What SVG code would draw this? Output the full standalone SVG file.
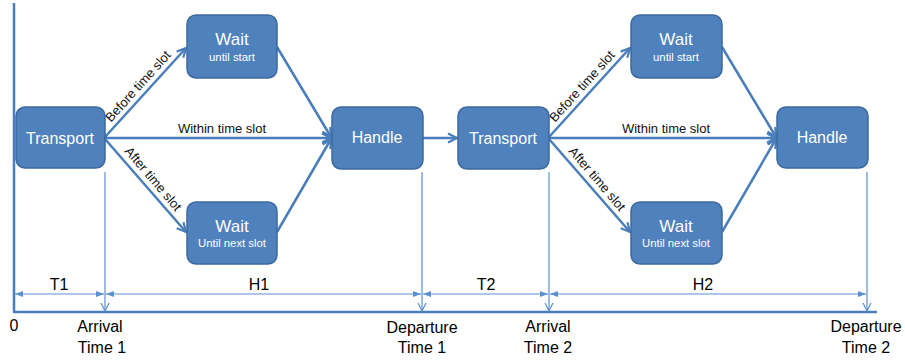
<svg xmlns="http://www.w3.org/2000/svg" width="905" height="360" viewBox="0 0 905 360">
<style>
.node rect{fill:#4f81bd;stroke:#3d6a9e;stroke-width:1.5}
.nt{font-family:"Liberation Sans",Arial,sans-serif;fill:#fff;text-anchor:middle}
.big{font-size:16px}
.wt{font-size:17px}
.small{font-size:11.3px}
.conn{stroke:#4a7ebb;stroke-width:2.5;fill:none}
.thin{stroke:#5b8fd0;stroke-width:1.2;fill:none}
.lbl{font-family:"Liberation Sans",Arial,sans-serif;font-size:13px;fill:#111;text-anchor:middle}
.ax{font-family:"Liberation Sans",Arial,sans-serif;font-size:16px;fill:#000;text-anchor:middle}
</style>
<defs>
<marker id="ah" markerUnits="userSpaceOnUse" markerWidth="12" markerHeight="12" viewBox="0 0 12 12" refX="11" refY="6" orient="auto">
<path d="M2,1.5 L11,6 L2,10.5" fill="none" stroke="#4a7ebb" stroke-width="2.2"/>
</marker>
<marker id="va" markerUnits="userSpaceOnUse" markerWidth="10" markerHeight="10" viewBox="0 0 10 10" refX="9" refY="5" orient="auto">
<path d="M1,1 L9,5 L1,9" fill="none" stroke="#5b8fd0" stroke-width="1.2"/>
</marker>
<marker id="da" markerUnits="userSpaceOnUse" markerWidth="8" markerHeight="8" viewBox="0 0 8 8" refX="8" refY="4" orient="auto-start-reverse">
<path d="M0,1 L8,4 L0,7 Z" fill="#5b8fd0"/>
</marker>
</defs>

<g id="axes">
<line x1="14" y1="3" x2="14" y2="312" class="conn"/>
<line x1="13" y1="312" x2="877" y2="312" class="conn"/>
<text class="ax" x="14" y="331">0</text>
<text class="ax" x="100" y="332">Arrival</text>
<text class="ax" x="102" y="353">Time 1</text>
<text class="ax" x="422" y="333">Departure</text>
<text class="ax" x="422" y="353">Time 1</text>
<text class="ax" x="548" y="332">Arrival</text>
<text class="ax" x="548" y="353">Time 2</text>
<text class="ax" x="866" y="332">Departure</text>
<text class="ax" x="866" y="353">Time 2</text>
</g>

<g id="connectors">
<line x1="105" y1="137" x2="186" y2="48" class="conn" marker-end="url(#ah)"/>
<line x1="105" y1="138" x2="331" y2="138" class="conn" marker-end="url(#ah)"/>
<line x1="105" y1="139" x2="186" y2="232" class="conn" marker-end="url(#ah)"/>
<line x1="277" y1="47" x2="331" y2="137" class="conn" marker-end="url(#ah)"/>
<line x1="277" y1="232" x2="331" y2="139" class="conn" marker-end="url(#ah)"/>
<line x1="423" y1="138" x2="457" y2="138" class="conn" marker-end="url(#ah)"/>
<line x1="549" y1="137" x2="630" y2="48" class="conn" marker-end="url(#ah)"/>
<line x1="549" y1="138" x2="776" y2="138" class="conn" marker-end="url(#ah)"/>
<line x1="549" y1="139" x2="630" y2="232" class="conn" marker-end="url(#ah)"/>
<line x1="722" y1="47" x2="776" y2="137" class="conn" marker-end="url(#ah)"/>
<line x1="722" y1="232" x2="776" y2="139" class="conn" marker-end="url(#ah)"/>
<text class="lbl" transform="translate(145,92.5) rotate(-48)" y="-5">Before time slot</text>
<text class="lbl" x="222" y="133">Within time slot</text>
<text class="lbl" transform="translate(146,185) rotate(49.6)" y="-5">After time slot</text>
<text class="lbl" transform="translate(589,92.5) rotate(-48)" y="-5">Before time slot</text>
<text class="lbl" x="666" y="133">Within time slot</text>
<text class="lbl" transform="translate(590,185) rotate(49.6)" y="-5">After time slot</text>
<line x1="105" y1="172" x2="105" y2="311" class="thin" marker-end="url(#va)"/>
<line x1="422" y1="172" x2="422" y2="311" class="thin" marker-end="url(#va)"/>
<line x1="549" y1="172" x2="549" y2="311" class="thin" marker-end="url(#va)"/>
<line x1="867" y1="172" x2="867" y2="311" class="thin" marker-end="url(#va)"/>
<line x1="15" y1="294" x2="104" y2="294" class="thin" marker-start="url(#da)" marker-end="url(#da)"/>
<line x1="106" y1="294" x2="421" y2="294" class="thin" marker-start="url(#da)" marker-end="url(#da)"/>
<line x1="423" y1="294" x2="548" y2="294" class="thin" marker-start="url(#da)" marker-end="url(#da)"/>
<line x1="550" y1="294" x2="866" y2="294" class="thin" marker-start="url(#da)" marker-end="url(#da)"/>
<text class="ax" x="59" y="290">T1</text>
<text class="ax" x="259" y="290">H1</text>
<text class="ax" x="486" y="290">T2</text>
<text class="ax" x="703" y="290">H2</text>
</g>

<g id="transport1" class="node"><rect x="16" y="107" width="89" height="61" rx="9"/><text class="nt big" x="60" y="144">Transport</text></g>
<g id="wait1a" class="node"><rect x="187" y="15" width="90" height="63" rx="9"/><text class="nt wt" x="232" y="45">Wait</text><text class="nt small" x="232" y="61">until start</text></g>
<g id="wait1b" class="node"><rect x="187" y="202" width="90" height="62" rx="9"/><text class="nt wt" x="232" y="232">Wait</text><text class="nt small" x="232" y="247">Until next slot</text></g>
<g id="handle1" class="node"><rect x="332" y="107" width="91" height="62" rx="9"/><text class="nt big" x="377" y="143">Handle</text></g>
<g id="transport2" class="node"><rect x="458" y="107" width="91" height="62" rx="9"/><text class="nt big" x="503" y="144">Transport</text></g>
<g id="wait2a" class="node"><rect x="631" y="15" width="91" height="63" rx="9"/><text class="nt wt" x="676" y="45">Wait</text><text class="nt small" x="676" y="61">until start</text></g>
<g id="wait2b" class="node"><rect x="631" y="202" width="91" height="62" rx="9"/><text class="nt wt" x="676" y="232">Wait</text><text class="nt small" x="676" y="247">Until next slot</text></g>
<g id="handle2" class="node"><rect x="777" y="107" width="91" height="61" rx="9"/><text class="nt big" x="822" y="143">Handle</text></g>
</svg>
